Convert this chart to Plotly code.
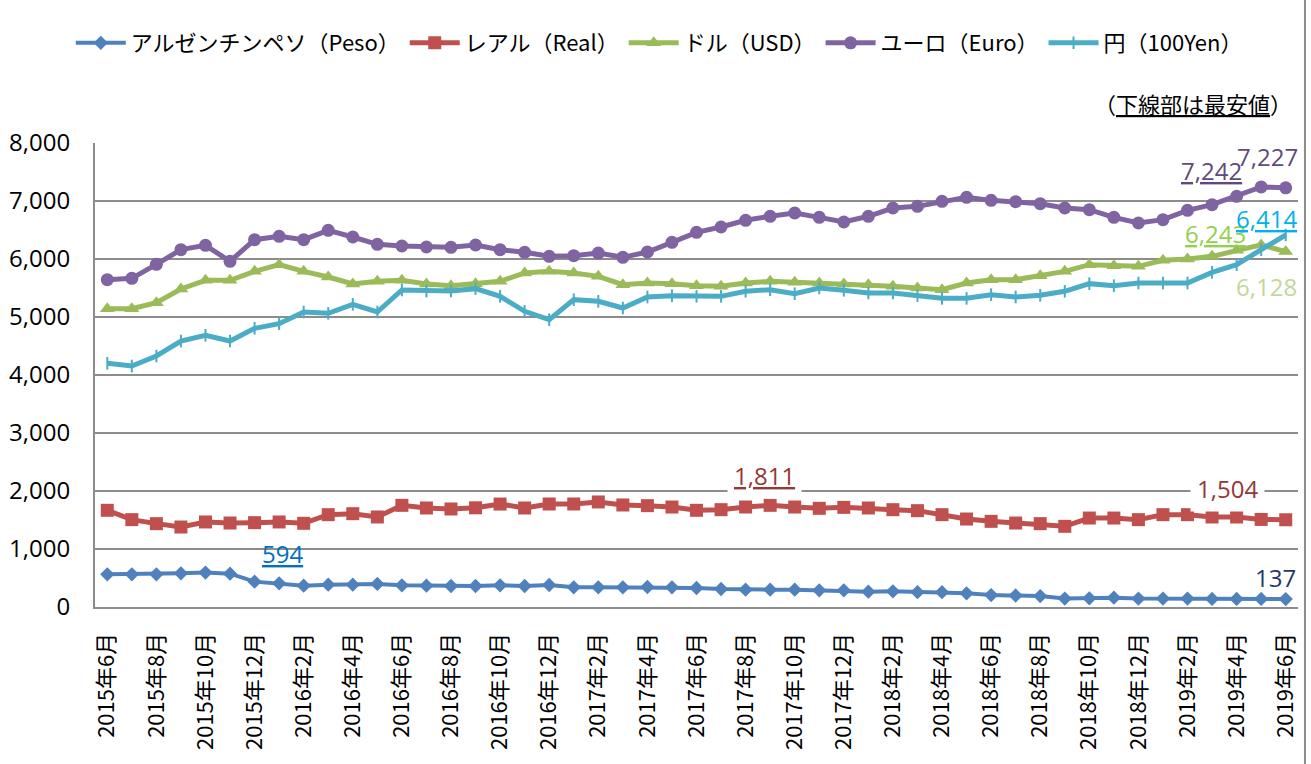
import plotly.graph_objects as go

# ---------------- data ----------------
months = []
for y in range(2015, 2020):
    for m in range(1, 13):
        if (y == 2015 and m < 6) or (y == 2019 and m > 6):
            continue
        months.append(f"{y}年{m}月")

peso = [563, 563, 563, 580, 594, 575, 437, 408, 368, 385, 385, 397, 374, 368, 362, 362,
        374, 362, 379, 339, 339, 339, 345, 339, 328, 310, 299, 299, 299, 287, 287, 264,
        270, 255, 255, 235, 205, 198, 188, 145, 150, 160, 145, 145, 145, 140, 140, 140, 137]
real = [1667, 1506, 1437, 1379, 1466, 1448, 1454, 1466, 1443, 1592, 1609, 1552, 1753, 1707, 1690, 1710,
        1775, 1707, 1776, 1776, 1811, 1759, 1747, 1724, 1667, 1678, 1724, 1753, 1724, 1701, 1718, 1707,
        1678, 1661, 1592, 1517, 1477, 1448, 1437, 1391, 1534, 1534, 1506, 1592, 1592, 1552, 1552, 1510, 1504]
usd = [5144, 5144, 5247, 5483, 5632, 5632, 5787, 5902, 5787, 5690, 5569, 5615, 5632, 5569, 5540, 5575,
       5615, 5759, 5787, 5759, 5701, 5557, 5586, 5575, 5540, 5529, 5586, 5615, 5598, 5586, 5569, 5557,
       5529, 5500, 5471, 5586, 5644, 5644, 5713, 5787, 5902, 5885, 5874, 5977, 6000, 6046, 6149, 6243, 6128]
euro = [5644, 5667, 5908, 6161, 6236, 5960, 6333, 6391, 6333, 6494, 6379, 6253, 6224, 6207, 6201, 6241,
        6161, 6115, 6046, 6057, 6103, 6029, 6121, 6287, 6460, 6552, 6667, 6736, 6793, 6718, 6638, 6736,
        6879, 6908, 6994, 7063, 7011, 6989, 6954, 6879, 6851, 6718, 6621, 6678, 6839, 6937, 7080, 7242, 7227]
yen = [4201, 4155, 4328, 4586, 4684, 4586, 4805, 4885, 5086, 5063, 5218, 5086, 5466, 5448, 5448, 5489,
       5356, 5098, 4954, 5299, 5270, 5155, 5345, 5368, 5356, 5356, 5443, 5471, 5402, 5500, 5460, 5414,
       5414, 5368, 5322, 5322, 5385, 5345, 5374, 5443, 5575, 5540, 5586, 5586, 5586, 5770, 5902, 6161, 6414]

series_names = ["アルゼンチンペソ（Peso）", "レアル（Real）", "ドル（USD）", "ユーロ（Euro）", "円（100Yen）"]
series_values = [peso, real, usd, euro, yen]

# ---------------- styles ----------------
line_colors = ["#4F81BD", "#C0504D", "#9BBB59", "#8064A2", "#4BACC6"]
symbols = ["diamond", "square", "triangle-up", "circle", "line-ns"]
msizes = [11, 13, 13, 13, 9]
lwidths = [4, 5, 5, 5, 5]
# label colours: (max label, last label)
label_colors = [("#0070C0", "#1F3864"), ("#953735", "#953735"), ("#92D050", "#C3D69B"),
                ("#604A7B", "#604A7B"), ("#00B0F0", "#00B0F0")]
# pixel offsets of labels: (max xshift, max yshift, last xshift, last yshift)
label_offsets = [(77, 19, -10, 22), (166, 26, -58, 31), (-46, 11, -19, -35),
                 (-50, 16, -18, 31), (-19, 16, -19, 16)]
label_bg = [False, True, False, False, False]

fig = go.Figure()
for i, (name, vals) in enumerate(zip(series_names, series_values)):
    mk = dict(symbol=symbols[i], size=msizes[i], color=line_colors[i])
    if symbols[i] == "line-ns":
        mk["line"] = dict(color=line_colors[i], width=2)
    fig.add_trace(go.Scatter(
        x=months, y=vals, name=name, mode="lines+markers",
        line=dict(color=line_colors[i], width=lwidths[i]),
        marker=mk,
    ))

annotations = []
label_font = "Open Sans"
n = len(months)
for i, vals in enumerate(series_values):
    imax = max(range(n), key=lambda k: vals[k])
    ox, oy, lx, ly = label_offsets[i]
    bg = "white" if label_bg[i] else "rgba(0,0,0,0)"
    annotations.append(dict(
        x=months[imax], y=vals[imax], xref="x", yref="y", showarrow=False,
        text=f"<u>{vals[imax]:,}</u>", xshift=ox, yshift=oy,
        font=dict(family=label_font, size=24, color=label_colors[i][0]),
        bgcolor=bg, borderpad=6))
    if imax != n - 1:
        annotations.append(dict(
            x=months[-1], y=vals[-1], xref="x", yref="y", showarrow=False,
            text=f"{vals[-1]:,}", xshift=lx, yshift=ly,
            font=dict(family=label_font, size=24, color=label_colors[i][1]),
            bgcolor=bg, borderpad=6))

annotations.append(dict(
    x=0.997, y=1.086, xref="paper", yref="paper", xanchor="right", yanchor="middle",
    showarrow=False, text="（<u>下線部は最安値</u>）",
    font=dict(family="Noto Sans CJK JP", size=22, color="black")))

fig.update_layout(
    width=1311, height=764,
    margin=dict(l=95, r=13, t=143, b=157, autoexpand=False),
    paper_bgcolor="white", plot_bgcolor="white",
    showlegend=True,
    legend=dict(orientation="h", xref="container", yref="container",
                x=0.054, xanchor="left", y=1 - 43 / 764, yanchor="middle",
                font=dict(family="Noto Sans CJK JP", size=22, color="black"),
                itemwidth=50, bgcolor="rgba(0,0,0,0)", traceorder="normal"),
    annotations=annotations,
    shapes=[dict(type="line", xref="paper", yref="paper", x0=1.0058, x1=1.0058, y0=-0.5, y1=1.5,
                 line=dict(color="#8c8c8c", width=2))],
)
fig.update_xaxes(
    type="category", range=[-0.5, n - 0.5], automargin=False,
    tickmode="array", tickvals=months[::2], ticktext=months[::2],
    tickangle=-90, tickfont=dict(family="Noto Sans CJK JP", size=22, color="black"),
    showgrid=False, showline=True, linecolor="#8c8c8c", linewidth=2,
    ticks="", ticklabelstandoff=15, fixedrange=True,
)
fig.update_yaxes(
    range=[0, 8000], dtick=1000, tickformat=",", automargin=False,
    tickfont=dict(family="Open Sans", size=24, color="black"),
    showgrid=True, gridcolor="#8c8c8c", gridwidth=1.5,
    showline=True, linecolor="#8c8c8c", linewidth=2,
    ticks="", ticklabelstandoff=18, zeroline=False,
)

fig.write_html("out.html", config={"displayModeBar": False},
               post_script="document.body.style.margin='0';document.body.style.overflow='hidden';")
